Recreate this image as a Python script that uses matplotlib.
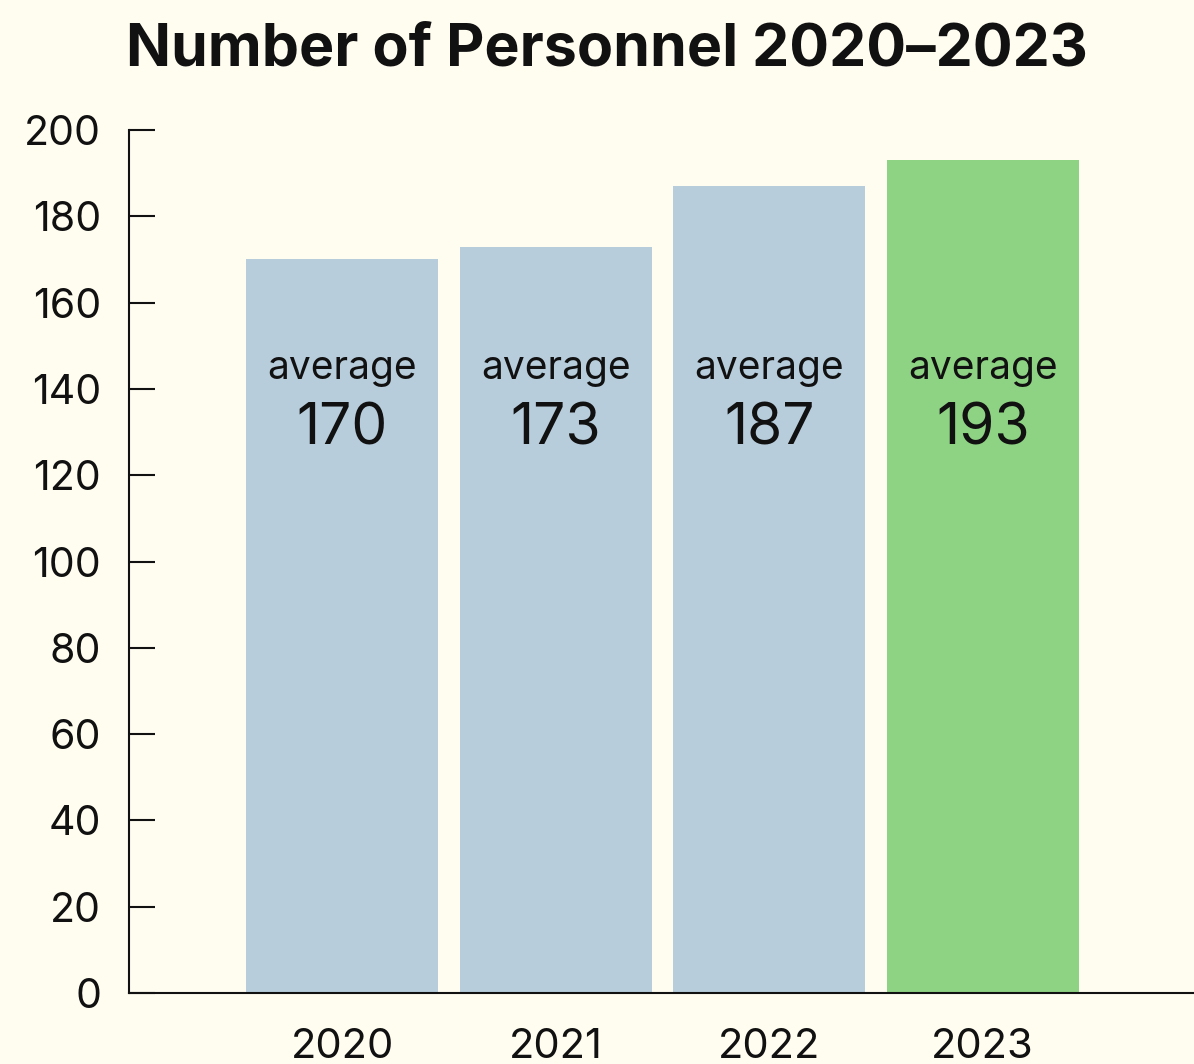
import matplotlib
matplotlib.use("Agg")
import matplotlib.pyplot as plt

years = ["2020", "2021", "2022", "2023"]
values = [170, 173, 187, 193]
label_word = "average"
title = "Number of Personnel 2020–2023"
yticks = [0, 20, 40, 60, 80, 100, 120, 140, 160, 180, 200]
colors = ["#B7CDDC", "#B7CDDC", "#B7CDDC", "#8ED283"]

bg = "#FFFCF0"
ink = "#111111"
plt.rcParams["font.family"] = ["Inter", "DejaVu Sans"]

fig = plt.figure(figsize=(11.94, 10.64), dpi=100, facecolor=bg)
ax = fig.add_axes([129/1194, 1-993/1064, 1-129/1194, (993-130)/1064])
ax.set_facecolor(bg)

x = list(range(len(years)))
ax.bar(x, values, width=0.9, color=colors, zorder=2)
for xi, v in zip(x, values):
    ax.text(xi, 144.8, label_word, ha="center", va="center", fontsize=28, color=ink)
    ax.text(xi, 130.6, str(v), ha="center", va="center", fontsize=41,
            fontweight="normal", color=ink)

ax.set_xlim(-1, 3.99)
ax.set_ylim(0, 200)
ax.set_yticks(yticks)
ax.set_yticklabels([str(t) for t in yticks], fontsize=29.5, color=ink)
ax.set_xticks(x)
ax.set_xticklabels(years, fontsize=30, color=ink)
ax.tick_params(axis="y", direction="in", length=19, width=1.5, pad=20, color=ink)
ax.tick_params(axis="x", length=0, pad=25)
for s in ["top", "right"]:
    ax.spines[s].set_visible(False)
for s in ["left", "bottom"]:
    ax.spines[s].set_linewidth(1.5)
    ax.spines[s].set_color(ink)

fig.text(607/1194, 1-50/1064, title, ha="center", va="center", fontsize=42.5,
         fontweight="bold", color=ink)

fig.savefig("out.png", dpi=100, facecolor=bg)
